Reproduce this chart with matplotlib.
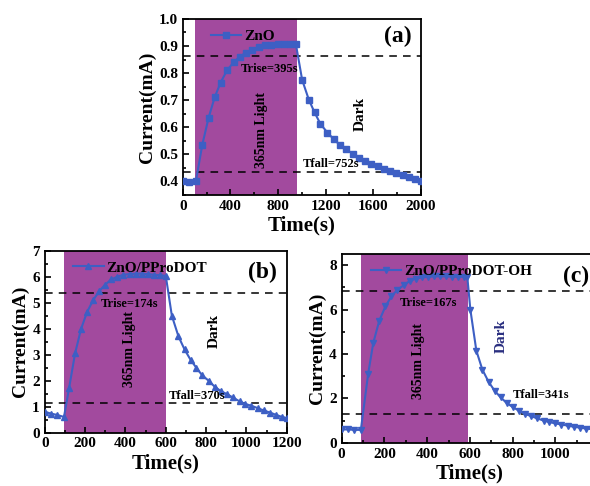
import matplotlib.pyplot as plt
from matplotlib.ticker import AutoMinorLocator

# panel (a): ZnO
ta = [0, 55, 110, 163, 216, 267, 317, 371, 427, 478, 528, 584, 640, 691, 744, 800, 851, 899, 950,
      1003, 1059, 1107, 1157, 1216, 1270, 1320, 1375, 1428, 1480, 1530, 1585, 1640, 1690, 1745,
      1795, 1850, 1900, 1950, 2000]
ia = [0.400, 0.398, 0.402, 0.535, 0.635, 0.710, 0.765, 0.810, 0.840, 0.860, 0.875, 0.886, 0.895,
      0.902, 0.905, 0.907, 0.908, 0.908, 0.908, 0.775, 0.702, 0.655, 0.612, 0.580, 0.555, 0.535,
      0.518, 0.502, 0.488, 0.475, 0.465, 0.455, 0.445, 0.437, 0.430, 0.422, 0.415, 0.408, 0.402]

# panel (b): ZnO/PProDOT
tb = [0, 30, 60, 95, 120, 150, 180, 210, 240, 270, 300, 330, 360, 390, 420, 450, 480, 510, 540,
      570, 600, 630, 663, 693, 723, 751, 781, 812, 842, 872, 903, 933, 966, 995, 1025, 1056, 1086,
      1117, 1147, 1177, 1200]
ib = [0.80, 0.73, 0.68, 0.60, 1.70, 3.05, 4.00, 4.65, 5.10, 5.45, 5.70, 5.90, 6.00, 6.08, 6.10,
      6.12, 6.12, 6.10, 6.08, 6.06, 6.03, 4.50, 3.70, 3.20, 2.80, 2.50, 2.20, 2.00, 1.77, 1.60,
      1.48, 1.35, 1.20, 1.10, 1.03, 0.94, 0.85, 0.77, 0.68, 0.60, 0.56]

# panel (c): ZnO/PProDOT-OH
tc = [0, 30, 60, 90, 124, 148, 176, 205, 233, 261, 291, 319, 347, 376, 404, 432, 460, 488, 516,
      544, 572, 588, 602, 630, 658, 687, 715, 743, 771, 801, 829, 857, 886, 914, 944, 972, 1000,
      1028, 1058, 1086, 1115, 1143, 1172, 1200]
ic = [0.60, 0.60, 0.58, 0.58, 3.10, 4.50, 5.50, 6.15, 6.60, 6.90, 7.10, 7.30, 7.40, 7.45, 7.48,
      7.50, 7.50, 7.50, 7.48, 7.48, 7.48, 7.45, 6.00, 4.15, 3.30, 2.75, 2.35, 2.05, 1.80, 1.60,
      1.45, 1.30, 1.20, 1.10, 1.00, 0.93, 0.87, 0.82, 0.77, 0.72, 0.68, 0.64, 0.61, 0.58]

panels = [
    dict(t=ta, i=ia, name="ZnO", marker="s", tag="(a)", light=(100, 960), lines=(0.862, 0.435),
         xlim=(0, 2000), ylim=(0.35, 1.0), xticks=[0, 400, 800, 1200, 1600, 2000],
         yticks=[0.4, 0.5, 0.6, 0.7, 0.8, 0.9, 1.0], yfmt="{:.1f}",
         rise=("Trise=395s", 490, 0.815), fall=("Tfall=752s", 1010, 0.463),
         light_txt=(660, 0.59), dark=(1490, 0.65, "black"), tagpos=(0.96, 0.9),
         pos=[0.310, 0.599, 0.403, 0.362]),
    dict(t=tb, i=ib, name="ZnO/PProDOT", marker="^", tag="(b)", light=(95, 600), lines=(5.38, 1.13),
         xlim=(0, 1200), ylim=(0, 7), xticks=[0, 200, 400, 600, 800, 1000, 1200],
         yticks=list(range(8)), yfmt="{:d}",
         rise=("Trise=174s", 275, 4.95), fall=("Tfall=370s", 615, 1.41),
         light_txt=(420, 3.2), dark=(840, 3.9, "black"), tagpos=(0.96, 0.88),
         pos=[0.076, 0.110, 0.410, 0.374]),
    dict(t=tc, i=ic, name="ZnO/PProDOT-OH", marker="v", tag="(c)", light=(90, 590), lines=(6.85, 1.29),
         xlim=(0, 1200), ylim=(0, 8.5), xticks=[0, 200, 400, 600, 800, 1000],
         yticks=[0, 2, 4, 6, 8], yfmt="{:d}",
         rise=("Trise=167s", 272, 6.28), fall=("Tfall=341s", 800, 2.15),
         light_txt=(358, 3.7), dark=(746, 4.8, "#2a2f80"), tagpos=(0.965, 0.88),
         pos=[0.579, 0.089, 0.435, 0.388]),
]

plt.rcParams["font.family"] = "Liberation Serif"
plt.rcParams["font.weight"] = "bold"

fig = plt.figure(figsize=(5.9, 4.86), dpi=100)
blue = "#3d5fc4"
purple = "#a24a9e"

for p in panels:
    ax = fig.add_axes(p["pos"])
    ax.axvspan(p["light"][0], p["light"][1], color=purple, lw=0, zorder=0)
    for y in p["lines"]:
        ax.axhline(y, color="black", ls=(0, (5, 4)), lw=1.1, zorder=1)
    ax.plot(p["t"], p["i"], color=blue, marker=p["marker"], ms=5, lw=1.5, label=p["name"], zorder=3)
    ax.set_xlim(*p["xlim"])
    ax.set_ylim(*p["ylim"])
    ax.set_xticks(p["xticks"])
    ax.set_yticks(p["yticks"])
    ax.set_yticklabels([p["yfmt"].format(v) for v in p["yticks"]])
    ax.xaxis.set_minor_locator(AutoMinorLocator(2))
    ax.yaxis.set_minor_locator(AutoMinorLocator(2))
    ax.tick_params(which="both", direction="in", labelsize=11, width=1.2)
    ax.tick_params(which="major", length=4)
    ax.tick_params(which="minor", length=2)
    for tl in ax.get_xticklabels() + ax.get_yticklabels():
        tl.set_fontweight("bold")
    for s in ax.spines.values():
        s.set_linewidth(1.3)
    ax.set_xlabel("Time(s)", fontsize=15, fontweight="bold", labelpad=2)
    ax.set_ylabel("Current(mA)", fontsize=14, fontweight="bold", labelpad=2)

    txt, x, y = p["rise"]
    ax.text(x, y, txt, fontsize=9, fontweight="bold", va="center")
    txt, x, y = p["fall"]
    ax.text(x, y, txt, fontsize=9, fontweight="bold", va="center")
    ax.text(p["light_txt"][0], p["light_txt"][1], "365nm Light", rotation=90, fontsize=10,
            fontweight="bold", ha="center", va="center")
    ax.text(p["dark"][0], p["dark"][1], "Dark", rotation=90, fontsize=11, fontweight="bold",
            ha="center", va="center", color=p["dark"][2])
    ax.text(p["tagpos"][0], p["tagpos"][1], p["tag"], transform=ax.transAxes, fontsize=17,
            fontweight="bold", ha="right", va="center")
    ax.legend(loc="upper left", bbox_to_anchor=(0.06, 1.02), frameon=False, handlelength=2,
              handletextpad=0.2, prop={"size": 11, "weight": "bold"})

fig.savefig("out.png", dpi=100)
